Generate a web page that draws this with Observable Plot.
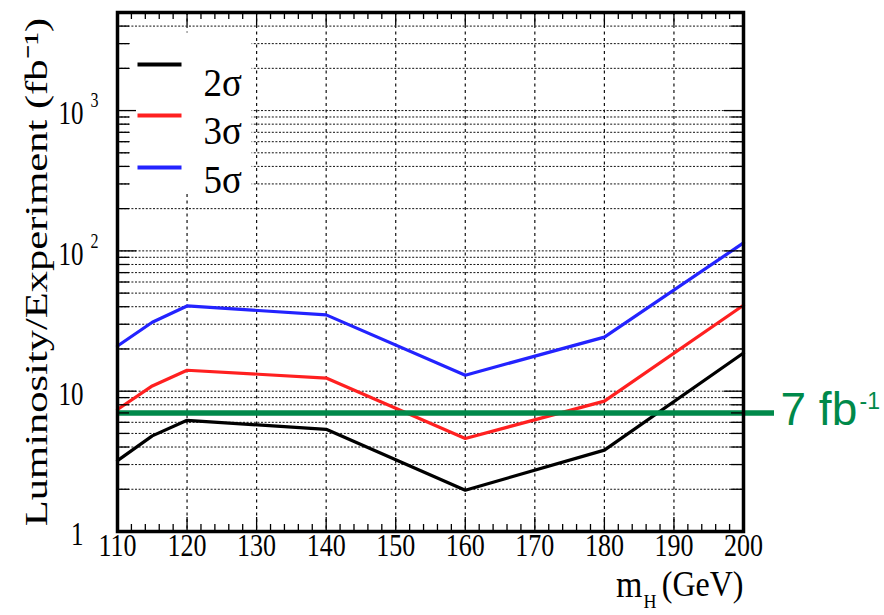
<!DOCTYPE html>
<html><head><meta charset="utf-8">
<script src="https://cdn.jsdelivr.net/npm/d3@7"></script>
<script src="https://cdn.jsdelivr.net/npm/@observablehq/plot@0.6"></script>
<style>body{margin:0;background:#fff}</style>
</head><body><div id="chart"></div>
<script>
// ---- data ----
const massGeV = [110, 115, 120, 140, 160, 180, 200];
const lumi2sigma = [3.2, 4.8, 6.2, 5.35, 1.97, 3.8, 18.7];
const lumi3sigma = [7.4, 10.9, 14.1, 12.4, 4.6, 8.5, 41];
const lumi5sigma = [21, 31, 40.5, 35, 13, 24.3, 114];
const seriesNames = ["2σ", "3σ", "5σ"];
const seriesColors = ["#000000", "#ff2020", "#2323ff"];
const referenceLumi = 7;
const referenceText = "7 fb";
const referenceExp = "-1";
const xTickLabels = [110, 120, 130, 140, 150, 160, 170, 180, 190, 200];
const yTickValues = [1, 10, 100, 1000];
const yTickBase = ["1", "10", "10", "10"];
const yTickExp = ["", "", "2", "3"];
const yTitle = "Luminosity/Experiment (fb⁻¹)";
const xTitleMain = "m", xTitleSub = "H", xTitleUnit = "(GeV)";

// ---- layout ----
const W = 884, H = 615, ML = 117, MR = 141, MT = 12, MB = 84;
const FW = W - ML - MR, FH = H - MT - MB;
const serif = "Liberation Serif, Times New Roman, serif";
const sans = "Liberation Sans, Arial, sans-serif";
const green = "#00894a";

const series = [lumi2sigma, lumi3sigma, lumi5sigma];
const rows = series.flatMap((vals, s) => massGeV.map((m, i) => ({m, v: vals[i], s: seriesNames[s]})));

const xMajor = xTickLabels;
const xMinor = d3.range(112, 200, 2).filter(d => d % 10 !== 0);
const yMajor = [10, 100, 1000];
const yMinor = [1, 10, 100, 1000].flatMap(dec => d3.range(2, 10).map(k => k * dec)).filter(v => v < 5000);

const stretches = [];
function txt(data, opts, sx = 1, sy = 1) { stretches.push([sx, sy]); return Plot.text(data, opts); }

const legendY = [64, 115, 167];
const legendTextY = [67, 115, 164];

const marks = [
  Plot.ruleY(yMinor.concat(yMajor), {y: d => d, stroke: "#111", strokeWidth: 1, strokeDasharray: "2,1.6"}),
  Plot.ruleX(xMajor.slice(1, -1), {x: d => d, stroke: "#111", strokeWidth: 1.2, strokeDasharray: "3,3.5"}),
  Plot.frame({fill: "white", stroke: "none", insetLeft: 13, insetRight: 743 - 251, insetTop: 20, insetBottom: 531 - 192}),
  Plot.line(rows, {x: "m", y: "v", z: "s", stroke: "s", strokeWidth: 3.2}),
  Plot.ruleY([referenceLumi], {y: d => d, stroke: green, strokeWidth: 5.5, insetRight: -31}),
  Plot.frame({stroke: "#000", strokeWidth: 3.5}),
  Plot.tickX(xMinor, {x: d => d, insetTop: FH - 7, strokeWidth: 1.3}),
  Plot.tickX(xMajor, {x: d => d, insetTop: FH - 14, strokeWidth: 1.3}),
  Plot.tickX(xMinor, {x: d => d, insetBottom: FH - 7, strokeWidth: 1.3}),
  Plot.tickX(xMajor, {x: d => d, insetBottom: FH - 13, strokeWidth: 1.3}),
  Plot.tickY(yMinor, {y: d => d, insetRight: FW - 12, strokeWidth: 1.3}),
  Plot.tickY(yMajor, {y: d => d, insetRight: FW - 19, strokeWidth: 1.3}),
  Plot.tickY(yMinor, {y: d => d, insetLeft: FW - 12, strokeWidth: 1.3}),
  Plot.tickY(yMajor, {y: d => d, insetLeft: FW - 19, strokeWidth: 1.3}),
  ...seriesNames.map((n, i) => Plot.frame({fill: seriesColors[i], stroke: "none", insetLeft: 20, insetRight: 743 - 181, insetTop: legendY[i] - 2 - MT, insetBottom: 531 - (legendY[i] + 2)})),
  ...seriesNames.map((n, i) => txt([n], {text: d => d, frameAnchor: "top-left", dx: 86, dy: legendTextY[i] - MT, textAnchor: "start", fontSize: 37, fontFamily: serif, fill: "#000"}, 1, 1.08)),
  txt(xTickLabels, {x: d => d, text: d => String(d), frameAnchor: "bottom", dy: 24, textAnchor: "middle", fontSize: 26, fontFamily: serif, fill: "#000"}, 1, 1.25),
  txt(yTickValues, {y: d => d, text: (d, i) => yTickBase[i], frameAnchor: "left", dx: -34, dy: 3, textAnchor: "end", fontSize: 25, fontFamily: serif, fill: "#000"}, 1, 1.35),
  txt(yTickValues.filter((d, i) => yTickExp[i]), {y: d => d, text: d => yTickExp[yTickValues.indexOf(d)], frameAnchor: "left", dx: -27, dy: -10, textAnchor: "start", fontSize: 16, fontFamily: serif, fill: "#000"}, 1, 1.35),
  txt([yTitle], {text: d => d, frameAnchor: "left", dx: -81, rotate: -90, textAnchor: "middle", fontSize: 32, fontFamily: serif, fill: "#000"}, 1.33, 1),
  txt([xTitleMain], {text: d => d, frameAnchor: "bottom-right", dx: -101, dy: 65, textAnchor: "end", fontSize: 34, fontFamily: serif, fill: "#000"}, 1, 1.1),
  txt([xTitleSub], {text: d => d, frameAnchor: "bottom-right", dx: -100, dy: 76, textAnchor: "start", fontSize: 18, fontFamily: serif, fill: "#000"}, 1, 1.1),
  txt([xTitleUnit], {text: d => d, frameAnchor: "bottom-right", dx: 0, dy: 64, textAnchor: "end", fontSize: 32, fontFamily: serif, fill: "#000"}, 1, 1.15),
  txt([referenceLumi], {y: d => d, text: () => referenceText, frameAnchor: "right", dx: 37, dy: -3, textAnchor: "start", fontSize: 46, fontFamily: sans, fill: green}),
  txt([referenceLumi], {y: d => d, text: () => referenceExp, frameAnchor: "right", dx: 116, dy: -11, textAnchor: "start", fontSize: 23, fontFamily: sans, fill: green})
];

const chart = Plot.plot({
  width: W, height: H,
  marginLeft: ML, marginRight: MR, marginTop: MT, marginBottom: MB,
  style: {background: "white", overflow: "visible"},
  x: {domain: [110, 200], axis: null},
  y: {type: "log", domain: [1, 5000], axis: null},
  color: {domain: seriesNames, range: seriesColors},
  marks
});
document.getElementById("chart").appendChild(chart);

// stretch text glyphs to mimic the reference's aspect ratio
d3.select(chart).selectAll('g[aria-label="text"]').each(function (_, gi) {
  const [sx, sy] = stretches[gi] || [1, 1];
  if (sx === 1 && sy === 1) return;
  d3.select(this).selectAll("text").each(function () {
    const t = d3.select(this);
    let tr = t.attr("transform");
    if (!tr) {
      const x = +(t.attr("x") || 0);
      tr = `translate(${x},0)`;
      t.attr("x", null);
    }
    t.attr("transform", `${tr} scale(${sx},${sy})`);
  });
});
</script></body></html>
